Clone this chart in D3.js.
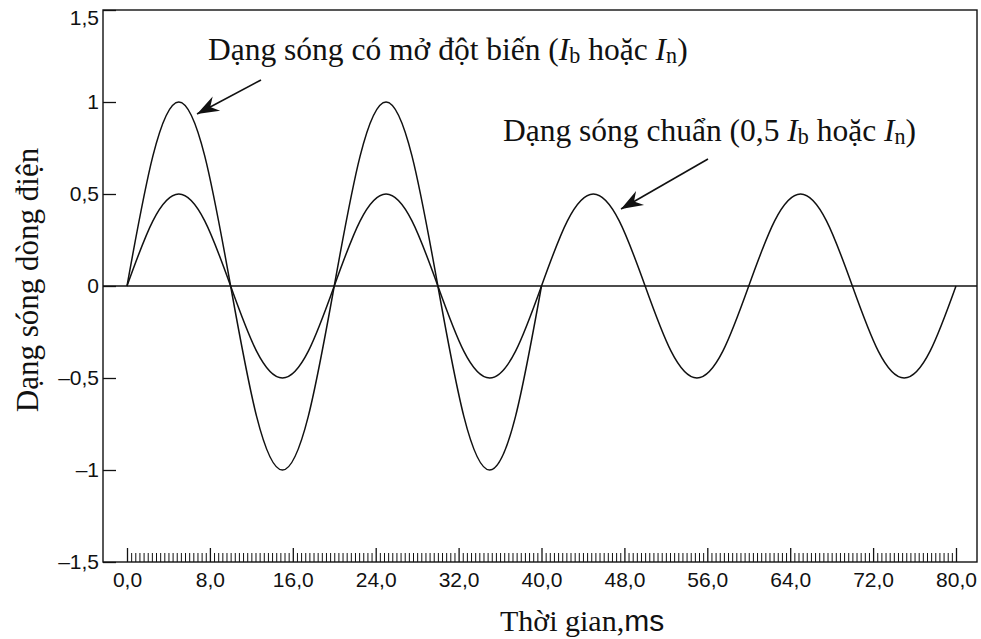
<!DOCTYPE html>
<html><head><meta charset="utf-8">
<script src="https://cdn.jsdelivr.net/npm/d3@7"></script>
<style>body{margin:0;background:#fff}svg{display:block}</style>
</head><body>
<svg id="c" width="981" height="639"></svg>
<script>
// Time samples (ms) and current values
const timeStd = [0,2.5,5,7.5,10,12.5,15,17.5,20,22.5,25,27.5,30,32.5,35,37.5,40,42.5,45,47.5,50,52.5,55,57.5,60,62.5,65,67.5,70,72.5,75,77.5,80];
const valueStd = [0,0.354,0.5,0.354,0,-0.354,-0.5,-0.354,0,0.354,0.5,0.354,0,-0.354,-0.5,-0.354,0,0.354,0.5,0.354,0,-0.354,-0.5,-0.354,0,0.354,0.5,0.354,0,-0.354,-0.5,-0.354,0];
const timeInrush = [0,2.5,5,7.5,10,12.5,15,17.5,20,22.5,25,27.5,30,32.5,35,37.5,40];
const valueInrush = [0,0.707,1,0.707,0,-0.707,-1,-0.707,0,0.707,1,0.707,0,-0.707,-1,-0.707,0];
const xTicks = [0,8,16,24,32,40,48,56,64,72,80];
const yTicks = [-1.5,-1,-0.5,0,0.5,1,1.5];
const yTickLabels = ["\u20131,5","\u20131","\u20130,5","0","0,5","1","1,5"];

const svg = d3.select("#c");
const L=103,R=977,T=10,B=562;
const x = d3.scaleLinear().domain([0,80]).range([127,956]);
const y = d3.scaleLinear().domain([-1.5,1.5]).range([B,T]);
const sans = "Liberation Sans, Arial, sans-serif";
const serif = "Liberation Serif, Times New Roman, serif";

// frame
svg.append("rect").attr("x",L).attr("y",T).attr("width",R-L).attr("height",B-T)
  .attr("fill","none").attr("stroke","#111").attr("stroke-width",1.4);

// zero line
svg.append("line").attr("x1",L).attr("x2",R).attr("y1",y(0)).attr("y2",y(0))
  .attr("stroke","#111").attr("stroke-width",1.6);

// y axis (inward ticks)
const yAxis = d3.axisLeft(y).tickValues(yTicks).tickSize(-13).tickPadding(4)
  .tickFormat((d,i)=>yTickLabels[i]);
const gy = svg.append("g").attr("transform",`translate(${L},0)`).call(yAxis);
gy.select(".domain").remove();
gy.selectAll("line").attr("stroke","#111").attr("stroke-width",1.3);
gy.selectAll("text").attr("font-family",sans).attr("font-size",21).attr("fill","#111");
gy.selectAll(".tick").filter(d=>d===1.5).select("text").attr("y",8);

// x axis minor + major ticks (inward)
const minor = d3.range(0,201).map(i=>i*0.4).filter(v=>Math.abs(v/8-Math.round(v/8))>1e-6);
const gxm = svg.append("g").attr("transform",`translate(0,${B})`)
  .call(d3.axisTop(x).tickValues(minor).tickSize(9).tickFormat(""));
gxm.select(".domain").remove();
gxm.selectAll("line").attr("stroke","#111").attr("stroke-width",1);
const gx = svg.append("g").attr("transform",`translate(0,${B})`)
  .call(d3.axisBottom(x).tickValues(xTicks).tickSize(-14).tickPadding(10)
    .tickFormat(d=>d3.format(".1f")(d).replace(".",",")));
gx.select(".domain").remove();
gx.selectAll("line").attr("stroke","#111").attr("stroke-width",1.3);
gx.selectAll("text").attr("font-family",sans).attr("font-size",21).attr("fill","#111");

// curves
const line = d3.line().x(d=>x(d[0])).y(d=>y(d[1])).curve(d3.curveNatural);
svg.append("path").datum(timeStd.map((t,i)=>[t,valueStd[i]])).attr("d",line)
  .attr("fill","none").attr("stroke","#111").attr("stroke-width",1.5);
svg.append("path").datum(timeInrush.map((t,i)=>[t,valueInrush[i]])).attr("d",line)
  .attr("fill","none").attr("stroke","#111").attr("stroke-width",1.5);

// arrows
function arrow(x1,y1,x2,y2){
  svg.append("line").attr("x1",x1).attr("y1",y1).attr("x2",x2).attr("y2",y2)
    .attr("stroke","#111").attr("stroke-width",1.6);
  const a = Math.atan2(y2-y1,x2-x1);
  const len=22, w=8, back=15;
  const p = [
    [x2,y2],
    [x2-len*Math.cos(a)+w*Math.sin(a), y2-len*Math.sin(a)-w*Math.cos(a)],
    [x2-back*Math.cos(a), y2-back*Math.sin(a)],
    [x2-len*Math.cos(a)-w*Math.sin(a), y2-len*Math.sin(a)+w*Math.cos(a)]
  ];
  svg.append("path").attr("d","M"+p.join("L")+"Z").attr("fill","#111");
}
arrow(261,80,197,114);
arrow(708,159,621,209);

// annotations
function ann(xp,yp,fs,parts){
  const t = svg.append("text").attr("x",xp).attr("y",yp).attr("font-family",serif).attr("font-size",fs).attr("fill","#111");
  parts.forEach(p=>{
    const s=t.append("tspan").text(p.t);
    if(p.i) s.attr("font-style","italic");
    if(p.sub) s.attr("font-size",fs*0.7).attr("dy",3);
    if(p.after) s.attr("dy",-3);
  });
}
ann(208,60,31.5,[{t:"Dạng sóng có mở đột biến ("},{t:"I",i:1},{t:"b",sub:1},{t:" hoặc ",after:1},{t:"I",i:1},{t:"n",sub:1},{t:")",after:1}]);
ann(503,141,31.5,[{t:"Dạng sóng chuẩn (0,5 "},{t:"I",i:1},{t:"b",sub:1},{t:" hoặc ",after:1},{t:"I",i:1},{t:"n",sub:1},{t:")",after:1}]);

// axis titles
svg.append("text").attr("transform","translate(38,280) rotate(-90)").attr("text-anchor","middle")
  .attr("font-family",serif).attr("font-size",31).attr("fill","#111").text("Dạng sóng dòng điện");
const xt = svg.append("text").attr("x",500).attr("y",631).attr("font-family",serif).attr("font-size",30).attr("fill","#111");
xt.append("tspan").text("Thời gian,");
xt.append("tspan").attr("font-family",sans).text("ms");
</script>
</body></html>
